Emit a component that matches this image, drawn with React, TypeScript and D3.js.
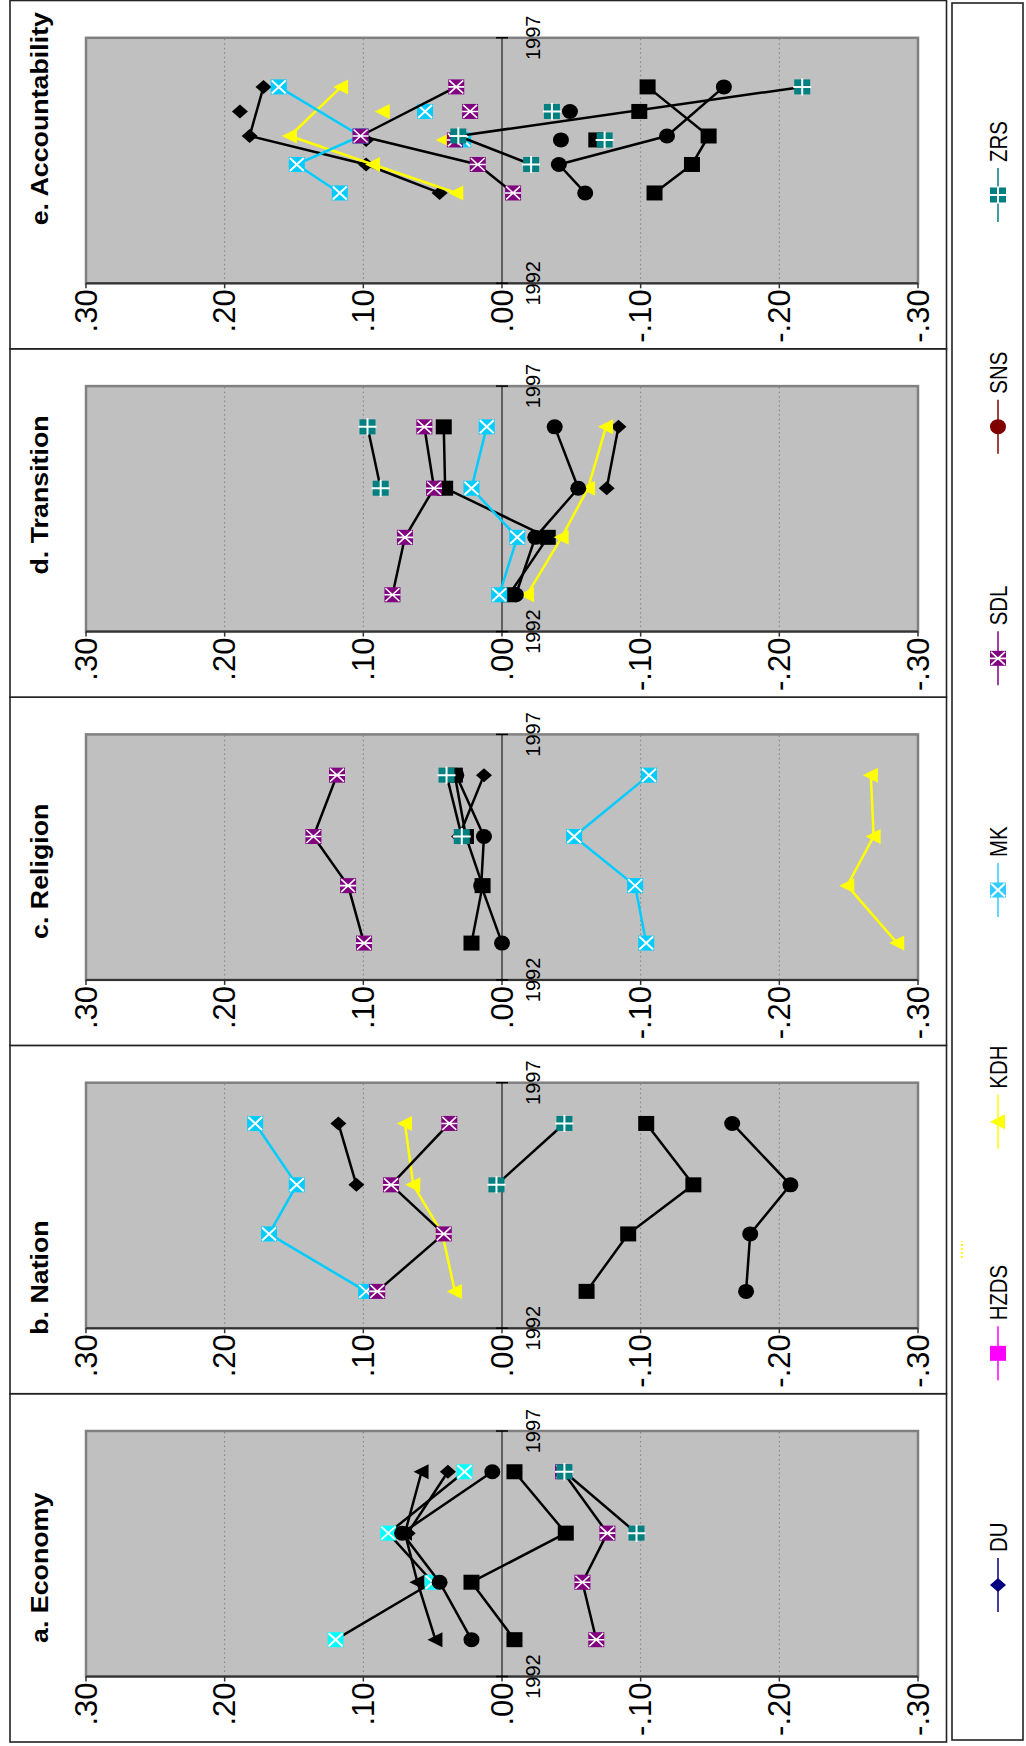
import React from "react";
import * as d3 from "d3";

// ---------- DATA ----------
const PARTIES = ["DU", "HZDS", "KDH", "MK", "SDL", "SNS", "ZRS"];
const PANEL_TITLES = ["a. Economy", "b. Nation", "c. Religion", "d. Transition", "e. Accountability"];
// survey dates (decimal years) for panels a-d
const SURVEY_DATES = [1992.75, 1993.92, 1994.92, 1996.17];
// survey dates for panel e (connected series)
const SURVEY_DATES_E = [1993.84, 1994.42, 1995.0, 1996.0];
// extra (unconnected) observations in panel e
const EXTRA_DATES_E = [1994.92, 1995.5];
const TICK_VALUES = [0.3, 0.2, 0.1, 0, -0.1, -0.2, -0.3];
const TICK_LABELS = [".30", ".20", ".10", ".00", "-.10", "-.20", "-.30"];
const YEAR_LABELS = ["1992", "1997"];

const economy: Record<string, (number | null)[]> = {
  DU: [null, null, 0.068, 0.039],
  HZDS: [-0.009, 0.022, -0.046, -0.009],
  KDH: [0.048, 0.061, 0.07, 0.058],
  MK: [0.12, 0.05, 0.082, 0.027],
  SDL: [-0.068, -0.058, -0.076, -0.044],
  SNS: [0.022, 0.045, 0.072, 0.007],
  ZRS: [null, null, -0.097, -0.045],
};
const nation: Record<string, (number | null)[]> = {
  DU: [null, null, 0.105, 0.118],
  HZDS: [-0.061, -0.091, -0.138, -0.104],
  KDH: [0.034, 0.043, 0.064, 0.07],
  MK: [0.098, 0.168, 0.148, 0.178],
  SDL: [0.09, 0.042, 0.08, 0.038],
  SNS: [-0.176, -0.179, -0.208, -0.166],
  ZRS: [null, null, 0.004, -0.045],
};
const religion: Record<string, (number | null)[]> = {
  DU: [null, null, 0.031, 0.013],
  HZDS: [0.022, 0.014, 0.026, 0.034],
  KDH: [-0.285, -0.249, -0.268, -0.266],
  MK: [-0.104, -0.096, -0.052, -0.106],
  SDL: [0.0995, 0.111, 0.136, 0.119],
  SNS: [0.0, 0.015, 0.013, 0.033],
  ZRS: [null, null, 0.029, 0.04],
};
const transition: Record<string, (number | null)[]> = {
  DU: [null, null, -0.0755, -0.084],
  HZDS: [-0.005, -0.033, 0.041, 0.042],
  KDH: [-0.018, -0.043, -0.062, -0.075],
  MK: [0.002, -0.011, 0.022, 0.011],
  SDL: [0.079, 0.07, 0.049, 0.056],
  SNS: [-0.01, -0.024, -0.055, -0.038],
  ZRS: [null, null, 0.0875, 0.097],
};
const accountability: Record<string, (number | null)[]> = {
  DU: [0.045, 0.098, 0.182, 0.172],
  HZDS: [-0.11, -0.137, -0.149, -0.105],
  KDH: [0.033, 0.093, 0.153, 0.116],
  MK: [0.117, 0.148, 0.102, 0.161],
  SDL: [-0.008, 0.0175, 0.102, 0.033],
  SNS: [-0.06, -0.041, -0.119, -0.16],
  ZRS: [null, -0.021, 0.0315, -0.2165],
};
const accountabilityExtra: Record<string, (number | null)[]> = {
  DU: [0.098, 0.189],
  HZDS: [-0.068, -0.099],
  KDH: [0.042, 0.086],
  MK: [0.028, 0.0555],
  SDL: [0.034, 0.023],
  SNS: [-0.0425, -0.049],
  ZRS: [-0.074, -0.036],
};

const PANEL_DATA = [economy, nation, religion, transition, accountability];

// ---------- LAYOUT / STYLES ----------
// horizontal shift of each panel title from the panel centre (layout only)
const TITLE_SHIFT = [0, -58, 0, 28, 56];

const MARKER_TYPE: Record<string, string> = {
  DU: "diamond", HZDS: "square", KDH: "triangle", MK: "xbox", SDL: "starbox", SNS: "circle", ZRS: "plusbox",
};
const LEGEND_COLOR: Record<string, string> = {
  DU: "#000080", HZDS: "#FF00FF", KDH: "#FFFF00", MK: "#33CCFF", SDL: "#800080", SNS: "#800000", ZRS: "#008080",
};
function plotStyle(party: string, panel: number) {
  const first = panel === 0;
  switch (party) {
    case "KDH": return { fill: first ? "#000000" : "#FFFF00", line: first ? "#000000" : "#FFFF00" };
    case "MK": return { fill: first ? "#00FFFF" : "#00CCFF", line: first ? "#000000" : "#00CCFF" };
    case "SDL": return { fill: "#800080", line: "#000000" };
    case "ZRS": return { fill: "#008080", line: "#000000" };
    default: return { fill: "#000000", line: "#000000" };
  }
}

function Marker({ type, x, y, fill }: { type: string; x: number; y: number; fill: string }) {
  const hw = 7.5, hh = 8;
  if (type === "diamond")
    return <polygon points={`${x},${y - hh} ${x + 7},${y} ${x},${y + hh} ${x - 7},${y}`} fill={fill} />;
  if (type === "square") return <rect x={x - hw} y={y - hh} width={hw * 2} height={hh * 2} fill={fill} />;
  if (type === "triangle")
    return <polygon points={`${x},${y - hh} ${x + hw},${y + 7} ${x - hw},${y + 7}`} fill={fill} />;
  if (type === "circle") return <ellipse cx={x} cy={y} rx={hw} ry={hh} fill={fill} />;
  const box = <rect x={x - hw} y={y - hh} width={hw * 2} height={hh * 2} fill={fill} />;
  const sw = 2;
  if (type === "xbox")
    return (
      <g>
        {box}
        <path d={`M${x - hw + 1},${y - hh + 1}L${x + hw - 1},${y + hh - 1}M${x - hw + 1},${y + hh - 1}L${x + hw - 1},${y - hh + 1}`} stroke="#fff" strokeWidth={sw} />
      </g>
    );
  if (type === "starbox")
    return (
      <g>
        {box}
        <path d={`M${x - hw + 1},${y - hh + 1}L${x + hw - 1},${y + hh - 1}M${x - hw + 1},${y + hh - 1}L${x + hw - 1},${y - hh + 1}M${x},${y - hh}L${x},${y + hh}`} stroke="#fff" strokeWidth={1.6} />
      </g>
    );
  // plusbox
  return (
    <g>
      {box}
      <path d={`M${x},${y - hh - 1}L${x},${y + hh + 1}M${x - hw - 1},${y}L${x + hw + 1},${y}`} stroke="#fff" strokeWidth={sw} />
    </g>
  );
}

const FONT = "'Liberation Sans', Arial, Helvetica, sans-serif";

export default function App() {
  // unrotated layout: width 1746 (time direction), height 1026 (value direction)
  const PANEL_W = 348.3;
  const FRAME_U0 = 4;
  const FRAME_V0 = 10;
  const FRAME_V1 = 946.5;
  const PLOT_OFF_L = 65.5;
  const PLOT_OFF_R = 311;
  const y = d3.scaleLinear().domain([0.3, -0.3]).range([86, 918]);
  const gridVals = TICK_VALUES.filter((v) => Math.abs(v) > 0.001 && Math.abs(v) < 0.29);

  const legendX = d3.scalePoint<string>().domain(PARTIES).range([161, 1551]);

  return (
    <svg width={1026} height={1746} style={{ position: "absolute", left: 0, top: 0, display: "block" }} fontFamily={FONT}>
      <rect x={0} y={0} width={1026} height={1746} fill="#fff" />
      <g transform="translate(0,1746) rotate(-90)">
        {PANEL_DATA.map((data, pi) => {
          const u0 = FRAME_U0 + pi * PANEL_W;
          const pl = u0 + PLOT_OFF_L;
          const pr = u0 + PLOT_OFF_R;
          const x = d3.scaleLinear().domain([1992, 1997]).range([pl, pr]);
          const dates = pi === 4 ? SURVEY_DATES_E : SURVEY_DATES;
          const line = d3
            .line<[number, number | null]>()
            .defined((d) => d[1] != null)
            .x((d) => x(d[0]))
            .y((d) => y(d[1] as number));
          return (
            <g key={pi}>
              <rect x={u0} y={FRAME_V0} width={PANEL_W} height={FRAME_V1 - FRAME_V0} fill="#fff" stroke="#222" strokeWidth={1.6} />
              {/* title */}
              <text transform={`translate(${u0 + PANEL_W / 2 + TITLE_SHIFT[pi]},48.4) scale(1.14,1)`} textAnchor="middle" fontSize={23.5} fontWeight="bold" fill="#000">
                {PANEL_TITLES[pi]}
              </text>
              {/* plot area */}
              <rect x={pl} y={y(0.3)} width={pr - pl} height={y(-0.3) - y(0.3)} fill="#C0C0C0" stroke="#808080" strokeWidth={2.5} />
              {gridVals.map((v) => (
                <line key={v} x1={pl} x2={pr} y1={y(v)} y2={y(v)} stroke="#808080" strokeWidth={1} strokeDasharray="1.5,3" />
              ))}
              {/* value axis */}
              <line x1={pl} x2={pl} y1={y(0.3)} y2={y(-0.3)} stroke="#333" strokeWidth={2} />
              {TICK_VALUES.map((v, i) => (
                <g key={i}>
                  <line x1={pl - 5} x2={pl} y1={y(v)} y2={y(v)} stroke="#333" strokeWidth={1.5} />
                  <text x={pl - 6} y={y(v) + 10.8} textAnchor="end" fontSize={31} fill="#000">
                    {TICK_LABELS[i]}
                  </text>
                </g>
              ))}
              {/* category axis at zero */}
              <line x1={pl} x2={pr} y1={y(0)} y2={y(0)} stroke="#000" strokeWidth={1} />
              <line x1={pl} x2={pl} y1={y(0) - 6} y2={y(0) + 6} stroke="#000" strokeWidth={1.5} />
              <line x1={pr} x2={pr} y1={y(0) - 6} y2={y(0) + 6} stroke="#000" strokeWidth={1.5} />
              <text x={pl} y={y(0) + 37.5} textAnchor="middle" fontSize={20} fill="#000">{YEAR_LABELS[0]}</text>
              <text x={pr} y={y(0) + 37.5} textAnchor="middle" fontSize={20} fill="#000">{YEAR_LABELS[1]}</text>
              {/* series */}
              {PARTIES.map((p) => {
                const st = plotStyle(p, pi);
                const pts: [number, number | null][] = dates.map((d, i) => [d, data[p][i]]);
                const extra: [number, number | null][] =
                  pi === 4 ? EXTRA_DATES_E.map((d, i) => [d, accountabilityExtra[p][i]]) : [];
                return (
                  <g key={p}>
                    <path d={line(pts) || ""} fill="none" stroke={st.line} strokeWidth={2.5} strokeLinejoin="round" />
                    {pts.filter((d) => d[1] != null).map((d, i) => (
                      <Marker key={i} type={MARKER_TYPE[p]} x={x(d[0])} y={y(d[1] as number)} fill={st.fill} />
                    ))}
                    {extra.filter((d) => d[1] != null).map((d, i) => (
                      <Marker key={"e" + i} type={MARKER_TYPE[p]} x={x(d[0])} y={y(d[1] as number)} fill={st.fill} />
                    ))}
                  </g>
                );
              })}
            </g>
          );
        })}
        {/* legend */}
        <rect x={6} y={952} width={1737} height={71} fill="#fff" stroke="#222" strokeWidth={1.6} />
        <line x1={488} x2={505} y1={962} y2={962} stroke="#FFFF00" strokeWidth={2} strokeDasharray="2,2" />
        {PARTIES.map((p) => {
          const cx = legendX(p) as number;
          const col = LEGEND_COLOR[p];
          return (
            <g key={p}>
              <line x1={cx - 27} x2={cx + 27} y1={998} y2={998} stroke={col} strokeWidth={1.5} />
              <Marker type={MARKER_TYPE[p]} x={cx} y={998} fill={col} />
              <text transform={`translate(${cx + 33},1006.7) scale(0.85,1)`} fontSize={24} fill="#000">
                {p}
              </text>
            </g>
          );
        })}
      </g>
    </svg>
  );
}
